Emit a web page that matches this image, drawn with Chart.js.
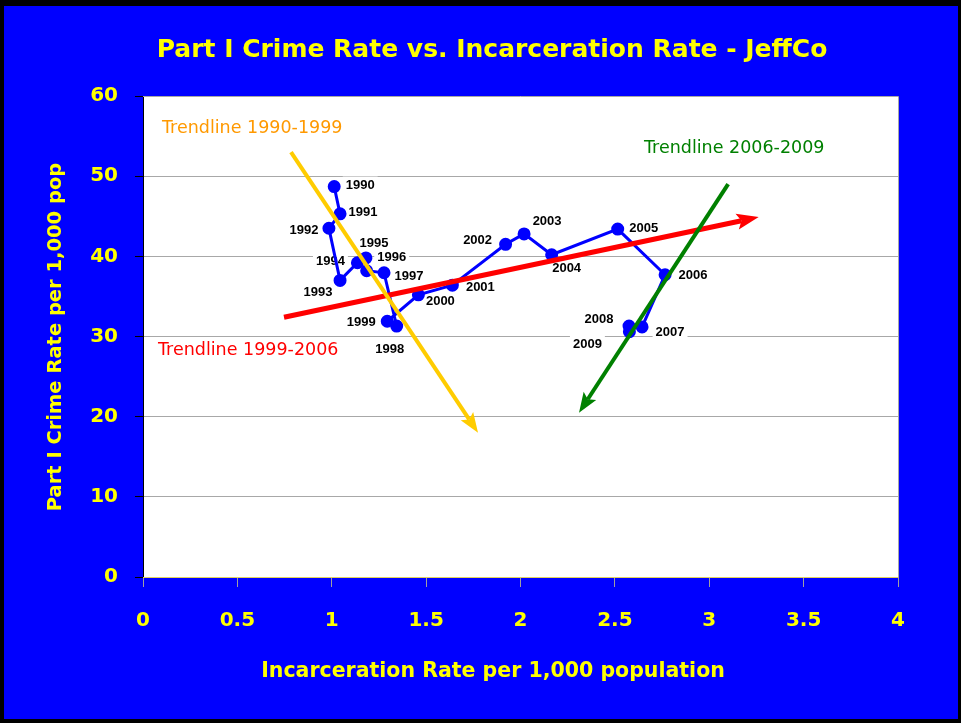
<!DOCTYPE html>
<html>
<head>
<meta charset="utf-8">
<title>Part I Crime Rate vs. Incarceration Rate - JeffCo</title>
<script src="https://cdn.jsdelivr.net/npm/chart.js@4.4.1/dist/chart.umd.min.js"></script>
<style>
  html, body { margin: 0; padding: 0; background: #000; }
  #wrap { width: 961px; height: 723px; }
</style>
</head>
<body>
<div id="wrap"><canvas id="crimeChart" width="961" height="723"></canvas></div>
<script>
// yearly points, incarceration vs crime rate (per 1,000)
const years = ['1990', '1991', '1992', '1993', '1994', '1995', '1996', '1997', '1998', '1999',
               '2000', '2001', '2002', '2003', '2004', '2005', '2006', '2007', '2008', '2009'];
const incarceration = [1.013, 1.044, 0.985, 1.044, 1.136, 1.181, 1.185, 1.277, 1.344, 1.294,
                       1.459, 1.639, 1.921, 2.019, 2.165, 2.515, 2.766, 2.644, 2.575, 2.577];
const crimeRate = [48.7, 45.3, 43.5, 37.0, 39.2, 39.8, 38.2, 37.95, 31.3, 31.9,
                   35.2, 36.4, 41.5, 42.8, 40.2, 43.4, 37.7, 31.2, 31.3, 30.6];

// trend arrows: [start, end] in data units
const trend9099X = [0.784, 1.775];
const trend9099Y = [53.0, 18.0];
const trend9906X = [0.747, 3.262];
const trend9906Y = [32.4, 44.9];
const trend0609X = [3.100, 2.310];
const trend0609Y = [49.0, 20.5];

const xTicks = [0, 0.5, 1, 1.5, 2, 2.5, 3, 3.5, 4];
const xTickLabels = ['0', '0.5', '1', '1.5', '2', '2.5', '3', '3.5', '4'];
const yTicks = [0, 10, 20, 30, 40, 50, 60];

// where each year label sits relative to its point (px)
const labelOffsets = [
  [26, -1], [23, -1], [-25, 2], [-22, 12], [-27, -1], [8, -15], [25, -13], [25, 4],
  [-7, 23], [-26, 1], [22, 7], [28, 2], [-28, -4], [23, -12], [15, 14], [26, -1],
  [28, 1], [28, 6], [-30, -7], [-42, 13]
];

const YELLOW = '#ffff00';
const BIG = "'Comic Sans MS', 'DejaVu Sans', sans-serif";

let points = incarceration.map((x, i) => ({x: x, y: crimeRate[i]}));

const frame = {
  id: 'frame',
  beforeDraw(chart) {
    let c = chart.ctx, a = chart.chartArea;
    c.save();
    c.fillStyle = '#000';
    c.fillRect(0, 0, chart.width, chart.height);
    c.fillStyle = '#0000ff';
    c.fillRect(4, 6, 954, 713);
    c.fillStyle = '#fff';
    c.fillRect(a.left, a.top, a.right - a.left, a.bottom - a.top);
    c.restore();
  },
  beforeDatasetsDraw(chart) {
    let c = chart.ctx, a = chart.chartArea;
    c.save();
    // grey frame on top and right
    c.strokeStyle = '#a8a8a8';
    c.lineWidth = 1;
    c.beginPath();
    c.moveTo(a.left, a.top + 0.5);
    c.lineTo(a.right + 0.5, a.top + 0.5);
    c.lineTo(a.right + 0.5, a.bottom);
    c.stroke();
    c.strokeStyle = '#e0d060';
    c.beginPath();
    c.moveTo(a.left, a.bottom + 0.5);
    c.lineTo(a.right, a.bottom + 0.5);
    c.stroke();

    // year labels on white boxes
    let meta = chart.getDatasetMeta(0);
    c.font = "bold 13px 'Liberation Sans', Arial, sans-serif";
    c.textAlign = 'center';
    c.textBaseline = 'middle';
    meta.data.forEach((pt, i) => {
      let lx = pt.x + labelOffsets[i][0];
      let ly = pt.y + labelOffsets[i][1];
      let w = c.measureText(years[i]).width;
      c.fillStyle = '#fff';
      c.fillRect(lx - w / 2 - 3, ly - 9, w + 6, 18);
      c.fillStyle = '#000';
      c.fillText(years[i], lx, ly);
    });
    c.restore();
  },
  afterDraw(chart) {
    let c = chart.ctx;
    let xs = chart.scales.x, ys = chart.scales.y;
    function arrow(xv, yv, color, width, headLen, headW) {
      let x1 = xs.getPixelForValue(xv[0]), y1 = ys.getPixelForValue(yv[0]);
      let x2 = xs.getPixelForValue(xv[1]), y2 = ys.getPixelForValue(yv[1]);
      let ang = Math.atan2(y2 - y1, x2 - x1);
      let bx = x2 - Math.cos(ang) * headLen * 0.8, by = y2 - Math.sin(ang) * headLen * 0.8;
      c.save();
      c.strokeStyle = color;
      c.fillStyle = color;
      c.lineWidth = width;
      c.beginPath();
      c.moveTo(x1, y1);
      c.lineTo(bx, by);
      c.stroke();
      let hx = x2 - Math.cos(ang) * headLen, hy = y2 - Math.sin(ang) * headLen;
      let px = -Math.sin(ang) * headW / 2, py = Math.cos(ang) * headW / 2;
      c.beginPath();
      c.moveTo(x2, y2);
      c.lineTo(hx + px, hy + py);
      c.lineTo(bx, by);
      c.lineTo(hx - px, hy - py);
      c.closePath();
      c.fill();
      c.restore();
    }
    arrow(trend9906X, trend9906Y, '#ff0000', 5, 22, 16);
    arrow(trend9099X, trend9099Y, '#ffcc00', 4, 20, 15);
    arrow(trend0609X, trend0609Y, '#008000', 4, 20, 15);

    c.save();
    c.textBaseline = 'middle';
    c.textAlign = 'left';
    c.font = '17.5px ' + BIG;
    c.fillStyle = '#ff9900';
    c.fillText('Trendline 1990-1999', 162, 128);
    c.fillStyle = '#008000';
    c.fillText('Trendline 2006-2009', 644, 148);
    c.fillStyle = '#ff0000';
    c.fillText('Trendline 1999-2006', 158, 350);

    // titles
    c.fillStyle = YELLOW;
    c.textAlign = 'center';
    c.font = 'bold 25px ' + BIG;
    c.fillText('Part I Crime Rate vs. Incarceration Rate - JeffCo', 492, 50);
    c.font = 'bold 20.5px ' + BIG;
    c.fillText('Incarceration Rate per 1,000 population', 493, 672);
    c.font = 'bold 19.5px ' + BIG;
    c.translate(56, 337);
    c.rotate(-Math.PI / 2);
    c.fillText('Part I Crime Rate per 1,000 pop', 0, 0);
    c.restore();
  }
};

new Chart(document.getElementById('crimeChart'), {
  type: 'scatter',
  data: {
    datasets: [{
      label: 'JeffCo',
      data: points,
      showLine: true,
      borderColor: '#0000ff',
      backgroundColor: '#0000ff',
      borderWidth: 3,
      pointRadius: 5,
      pointHoverRadius: 5
    }]
  },
  options: {
    responsive: false,
    animation: false,
    events: [],
    layout: { padding: { top: 96, right: 63, bottom: 0, left: 0 } },
    plugins: {
      legend: { display: false },
      tooltip: { enabled: false },
      title: { display: false }
    },
    scales: {
      x: {
        type: 'linear',
        min: 0,
        max: 4,
        afterFit(s) { s.height = 146; },
        afterBuildTicks(s) { s.ticks = xTicks.map(v => ({value: v})); },
        grid: { drawOnChartArea: false, tickLength: 10, tickColor: '#a0a0a0' },
        border: { display: false },
        ticks: {
          color: YELLOW,
          padding: 22,
          font: { family: BIG, size: 20, weight: 'bold' },
          callback: (v, i) => xTickLabels[i]
        }
      },
      y: {
        min: 0,
        max: 60,
        afterFit(s) { s.width = 143; },
        afterBuildTicks(s) { s.ticks = yTicks.map(v => ({value: v})); },
        grid: {
          color: ctx => (ctx.tick && (ctx.tick.value === 0 || ctx.tick.value === 60)) ? 'rgba(0,0,0,0)' : '#a8a8a8',
          tickColor: '#000',
          tickLength: 8
        },
        border: { display: true, color: '#000', width: 1 },
        ticks: { color: YELLOW, padding: 17, font: { family: BIG, size: 20, weight: 'bold' } }
      }
    }
  },
  plugins: [frame]
});
</script>
</body>
</html>
